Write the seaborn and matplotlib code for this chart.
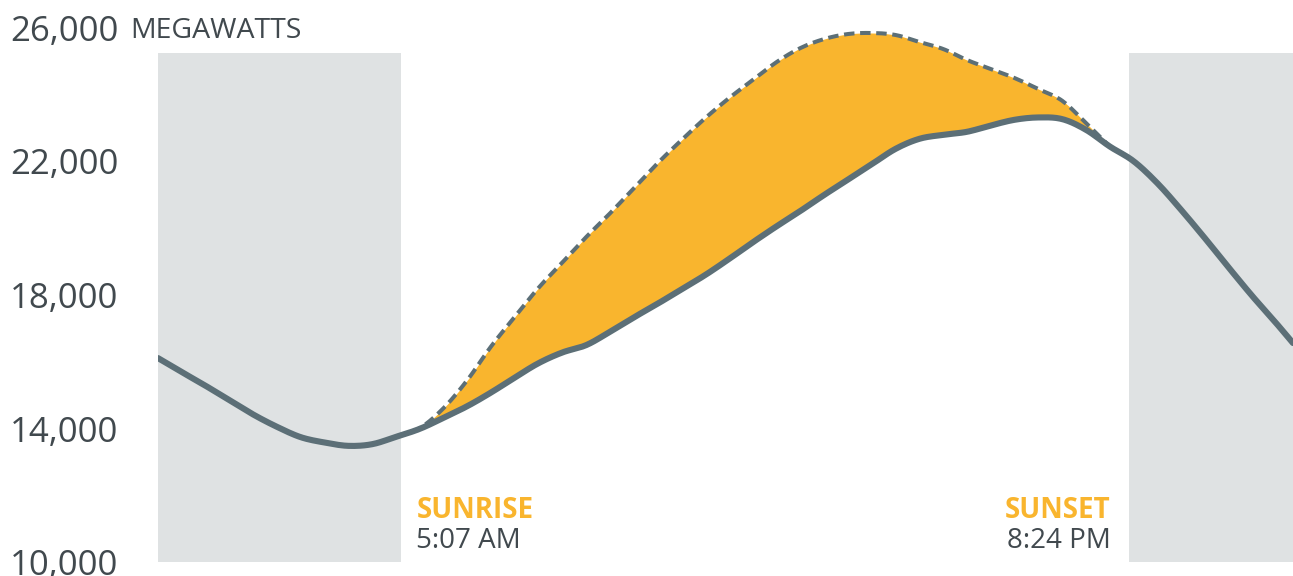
import numpy as np
import pandas as pd
import matplotlib
matplotlib.use("Agg")
import matplotlib.pyplot as plt
import seaborn as sns

# Hour of day (0 = midnight)
hours = [0.0, 0.5, 1.0, 1.5, 2.0, 2.5, 3.0, 3.5, 4.0, 4.5, 5.0, 5.5,
         6.0, 6.5, 7.0, 7.5, 8.0, 8.5, 9.0, 9.5, 10.0, 10.5, 11.0, 11.5,
         12.0, 12.5, 13.0, 13.5, 14.0, 14.5, 15.0, 15.5, 16.0, 16.5, 17.0, 17.5,
         18.0, 18.5, 19.0, 19.5, 20.0, 20.5, 21.0, 21.5, 22.0, 22.5, 23.0, 23.5, 23.85]

# Net load (demand minus solar), megawatts
net_load = [16110, 15690, 15280, 14850, 14420, 14050, 13740, 13580, 13480, 13530, 13750, 13990,
            14320, 14670, 15080, 15530, 15960, 16280, 16500, 16900, 17330, 17740, 18170, 18600,
            19080, 19580, 20060, 20520, 21000, 21460, 21920, 22380, 22680, 22800, 22890, 23080,
            23250, 23320, 23270, 22950, 22450, 22010, 21350, 20550, 19700, 18820, 17960, 17150, 16560]

# Total load during daylight, megawatts (same hour grid, 5:00 to 20:00)
day_hours = hours[10:41]
total_load = [13750, 14010, 14610, 15450, 16460, 17350, 18220, 18980, 19740, 20450, 21200, 21950,
              22640, 23300, 23900, 24440, 24980, 25400, 25670, 25820, 25850, 25790, 25580, 25370,
              25040, 24770, 24500, 24170, 23820, 23150, 22450]

sunrise_h = 5 + 7 / 60
sunset_h = 20 + 24 / 60
night_top = 25250
y_ticks = [10000, 14000, 18000, 22000, 26000]
y_labels = ["10,000", "14,000", "18,000", "22,000", "26,000"]

LINE = "#5c6f77"
ORANGE = "#f9b52e"
NIGHT = "#dfe2e3"
TEXT = "#41494e"


def smooth(x, y, per_seg=12):
    """Catmull-Rom curve through the given points, for a smooth drawn line."""
    x = np.asarray(x, float)
    y = np.asarray(y, float)
    px = np.concatenate([[2 * x[0] - x[1]], x, [2 * x[-1] - x[-2]]])
    py = np.concatenate([[2 * y[0] - y[1]], y, [2 * y[-1] - y[-2]]])
    t = np.linspace(0, 1, per_seg, endpoint=False)
    xs, ys = [], []
    for i in range(1, len(px) - 2):
        for arr, out in ((px, xs), (py, ys)):
            p0, p1, p2, p3 = arr[i - 1], arr[i], arr[i + 1], arr[i + 2]
            out.append(0.5 * (2 * p1 + (-p0 + p2) * t
                              + (2 * p0 - 5 * p1 + 4 * p2 - p3) * t ** 2
                              + (-p0 + 3 * p1 - 3 * p2 + p3) * t ** 3))
    xs.append([x[-1]])
    ys.append([y[-1]])
    return np.concatenate(xs), np.concatenate(ys)


nx, ny = smooth(hours, net_load)
tx, ty = smooth(day_hours, total_load)
_, dny = smooth(day_hours, net_load[10:41])
net_df = pd.DataFrame({"hour": nx, "mw": ny})
day_df = pd.DataFrame({"hour": tx, "total": ty, "net": dny})

sns.set_theme(style="white")
plt.rcParams["font.family"] = ["Open Sans", "DejaVu Sans"]

fig = plt.figure(figsize=(12.93, 5.76), dpi=100)
ax = fig.add_axes([158 / 1293, 14 / 576, 1 - 158 / 1293, (562 - 28) / 576])
ax.set_xlim(0, 23.85)
ax.set_ylim(10000, 26000)

# Night-time shading
ax.fill_between([0, sunrise_h], 10000, night_top, color=NIGHT, lw=0, zorder=0)
ax.fill_between([sunset_h, 24], 10000, night_top, color=NIGHT, lw=0, zorder=0)

# Solar contribution between the two curves
ax.fill_between(day_df["hour"], day_df["net"], day_df["total"], color=ORANGE, lw=0, zorder=1)

sns.lineplot(data=net_df, x="hour", y="mw", ax=ax, color=LINE, lw=4.4,
             estimator=None, sort=False, solid_capstyle="round", zorder=3)
sns.lineplot(data=day_df, x="hour", y="total", ax=ax, color=LINE, lw=2.9,
             estimator=None, sort=False, zorder=4).lines[-1].set_dashes((2.6, 1.4))

for s in ax.spines.values():
    s.set_visible(False)
ax.set_xlabel("")
ax.set_ylabel("")
ax.set_xticks([])
ax.set_yticks(y_ticks, y_labels)
ax.tick_params(axis="y", length=0, pad=28.5, labelsize=25, labelcolor=TEXT)
for lab in ax.get_yticklabels():
    lab.set_horizontalalignment("right")

ax.text(-28 / (1293 - 158), 26000, "MEGAWATTS", transform=ax.get_yaxis_transform(),
        fontsize=20.5, color=TEXT, va="center_baseline", ha="left")

ax.annotate("SUNRISE", xy=(sunrise_h, 10000), xytext=(15, 51), textcoords="offset pixels",
            fontsize=20, fontweight="bold", color=ORANGE, ha="left", va="center")
ax.annotate("5:07 AM", xy=(sunrise_h, 10000), xytext=(15, 21), textcoords="offset pixels",
            fontsize=20, color=TEXT, ha="left", va="center")
ax.annotate("SUNSET", xy=(sunset_h, 10000), xytext=(-18, 51), textcoords="offset pixels",
            fontsize=20, fontweight="bold", color=ORANGE, ha="right", va="center")
ax.annotate("8:24 PM", xy=(sunset_h, 10000), xytext=(-18, 21), textcoords="offset pixels",
            fontsize=20, color=TEXT, ha="right", va="center")

fig.savefig("out.png", dpi=100, facecolor="white")
